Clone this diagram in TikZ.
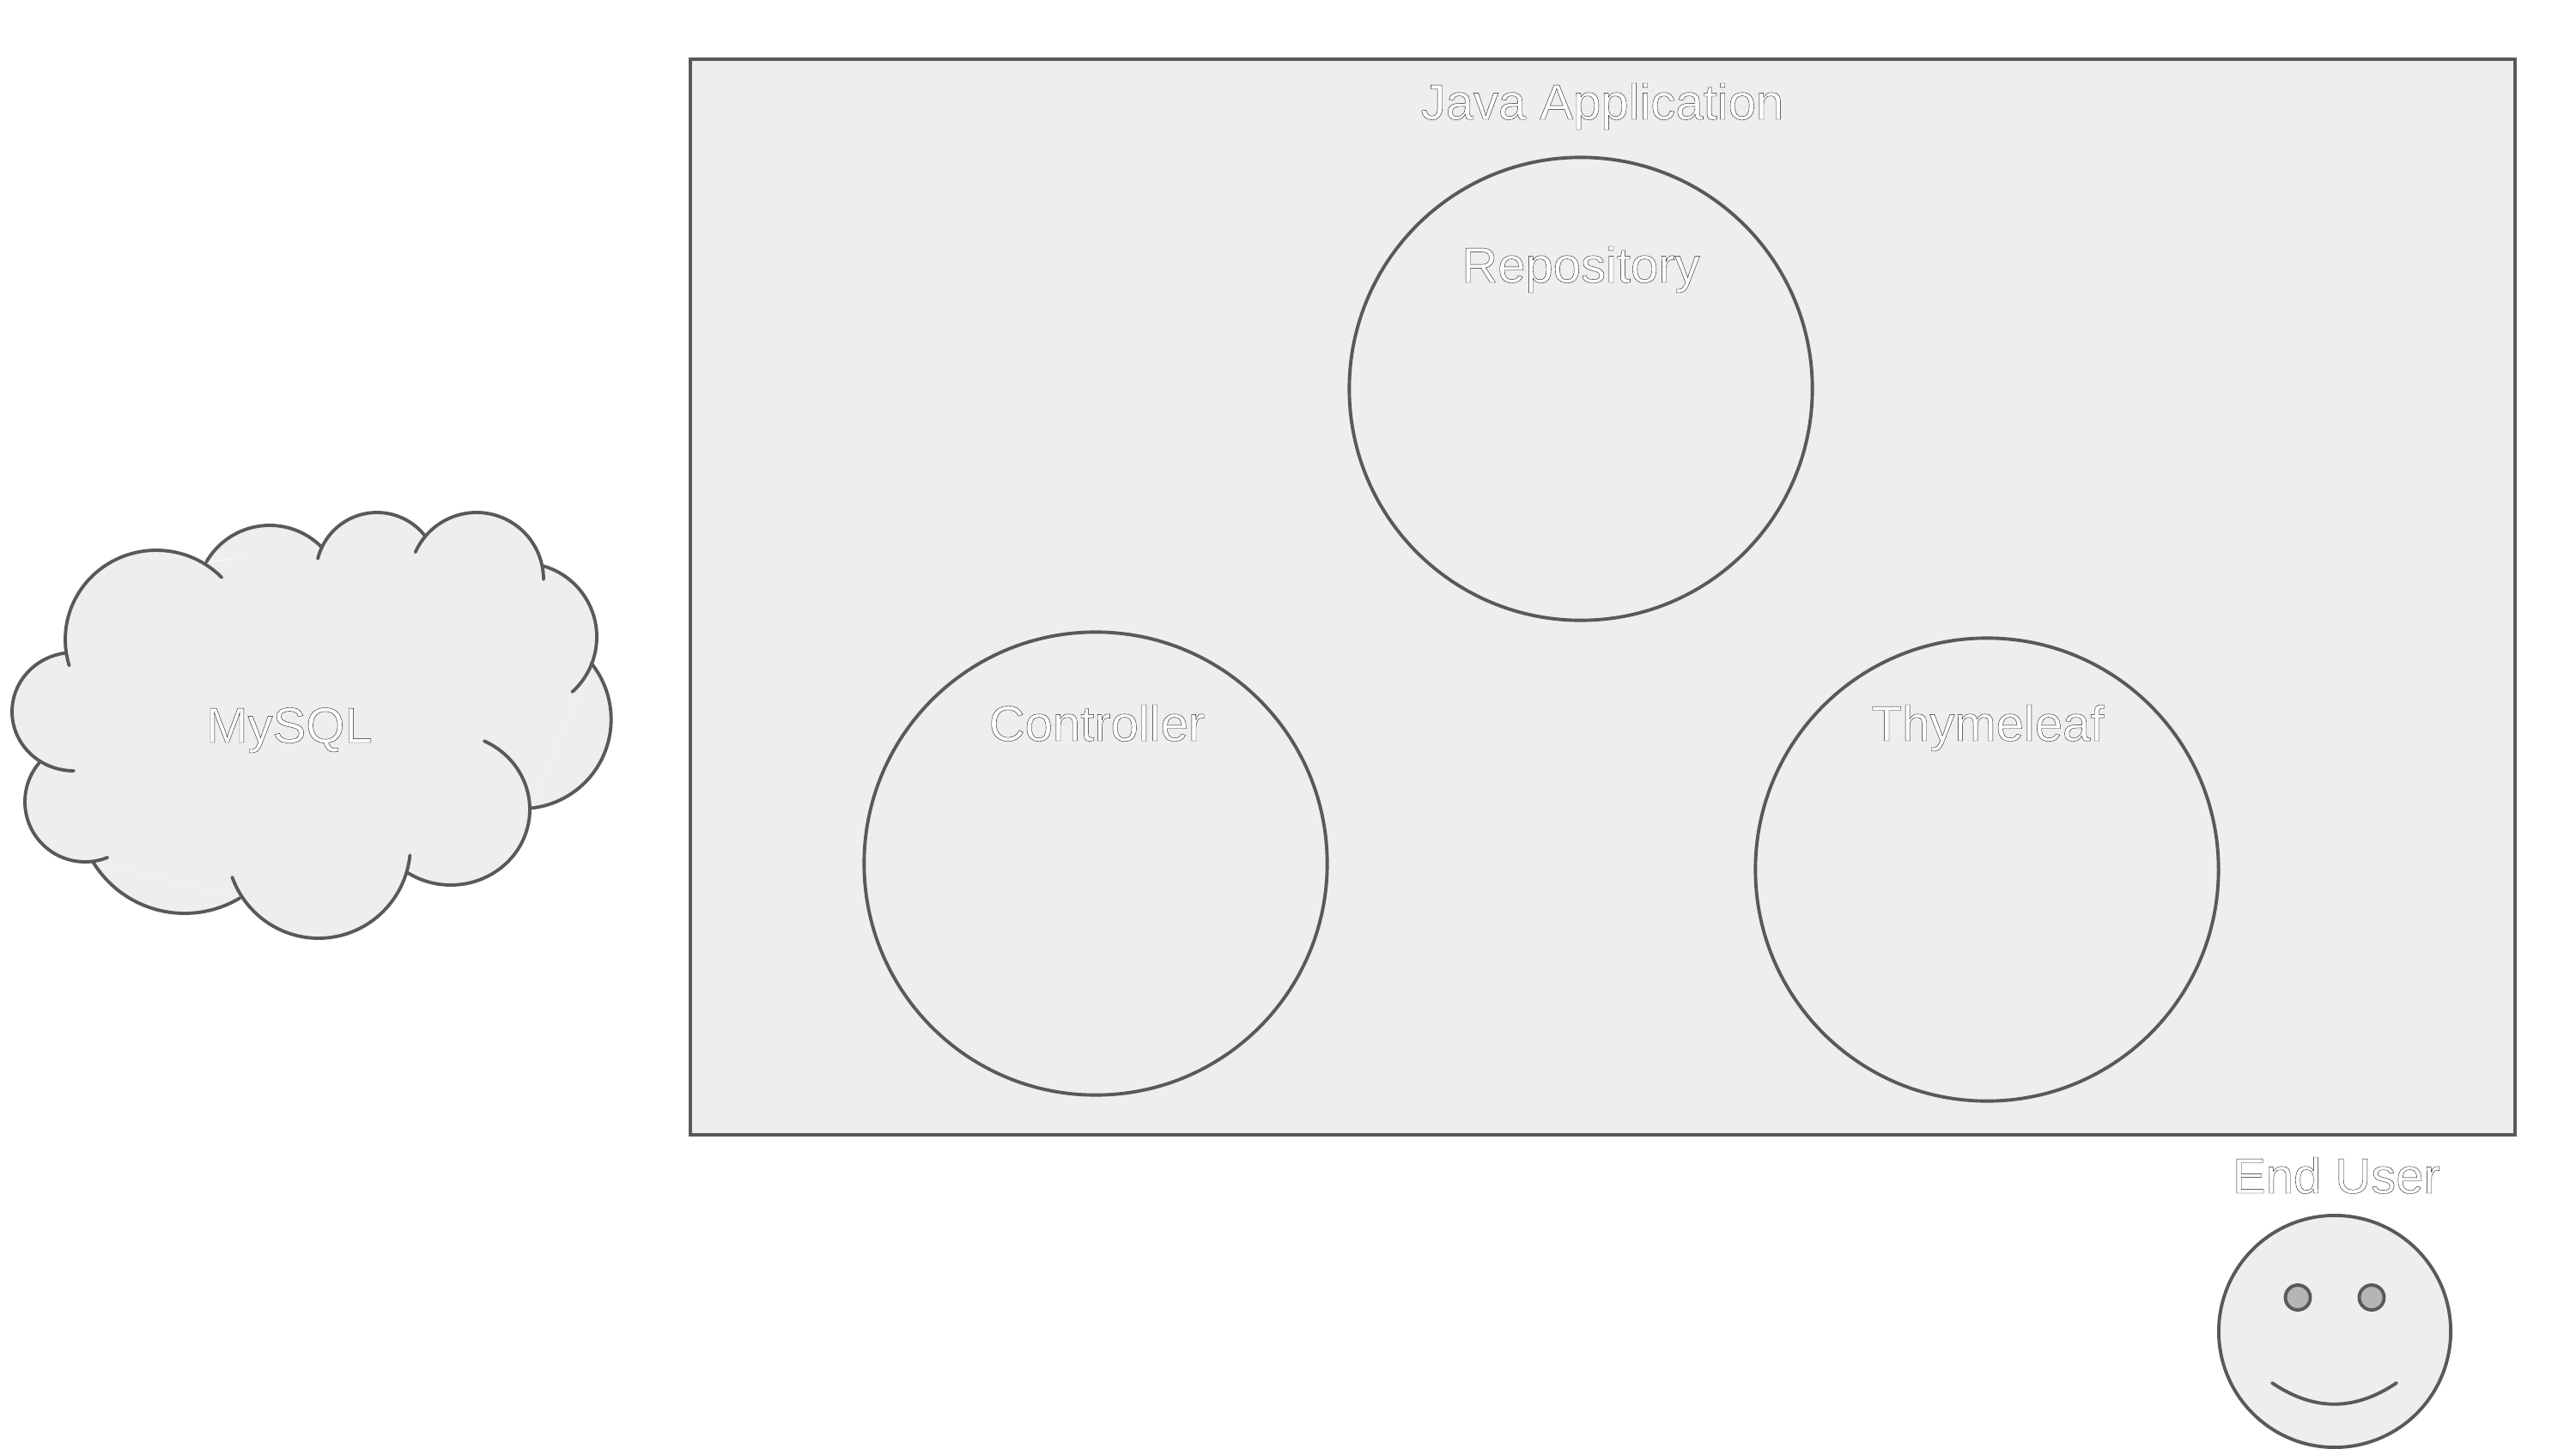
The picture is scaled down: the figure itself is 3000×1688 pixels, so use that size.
\documentclass[tikz,border=0pt]{standalone}
\usepackage{fontspec}
\setmainfont{Liberation Sans}
\definecolor{shapefill}{HTML}{EEEEEE}
\definecolor{shapeline}{HTML}{595959}
\definecolor{eyefill}{HTML}{B5B5B5}
\newcommand\hollowtext[1]{\color{white}\special{pdf:code 2 Tr 0.11 w 0.1 0.1 0.1 RG 1 1 1 rg}#1\special{pdf:code 0 Tr 0.5 w}}
\tikzset{
  x=0.01cm,y=-0.01cm,
  shapeline/.style={draw=shapeline,line width=1.1pt},
  component/.style={shapeline,fill=shapefill,circle,minimum size=5.39cm,inner sep=0pt,outer sep=0pt},
  eye/.style={shapeline,fill=eyefill,circle,minimum size=0.29cm,inner sep=0pt},
  hollow/.style={anchor=base,inner sep=0pt,font=\fontsize{16.5pt}{20pt}\selectfont},
  lobe/.style={shapeline,line cap=round},
}
\begin{document}
\begin{tikzpicture}
\useasboundingbox (0,0) rectangle (3000,1688);
\node[shapeline,fill=shapefill,rectangle,inner sep=0pt,outer sep=0pt,minimum width=21.23cm,minimum height=12.53cm] (app) at (1866.5,695.5) {};
\node[component] (repo) at (1841,453) {};
\node[component] (ctrl) at (1276,1006) {};
\node[component] (thyme) at (2314,1013) {};
\node[hollow] (appl) at (1866,139) {\hollowtext{Java Application}};
\node[hollow] (repol) at (1841,329) {\hollowtext{Repository}};
\node[hollow] (ctrll) at (1277.5,863) {\hollowtext{Controller}};
\node[hollow] (thymel) at (2315,863) {\hollowtext{Thymeleaf}};
% cloud: each lobe is an elliptical arc cx/cy/rx/ry/start/end
\fill[shapefill] (77,762)--(241,656)--(375,635)--(495,624)--(632,660)--(688,773)--(618,942)--(474,1018)--(279,1046)--(108,1003)--(47,890)--cycle;
\foreach \cx/\cy/\rx/\ry/\a/\b in {182/745/106/104/197/44, 314/697/85/85/150/44, 439/668/71/71/166/38, 555/675/78/78/156/0, 609/742/86/86/74/-48, 607.7/838/104/104/39/-84, 525/943/92/88/65/-123, 371/985/107/108/-6/-160, 215/939/125/125/-59/-149, 99/934/70/70/-68/-220, 86/829/72/69/270/97}{
  \fill[shapefill] plot[domain=\a:\b,samples=50,smooth] ({\cx+\rx*cos(\x)},{\cy-\ry*sin(\x)});
}
\foreach \cx/\cy/\rx/\ry/\a/\b in {182/745/106/104/197/44, 314/697/85/85/150/44, 439/668/71/71/166/38, 555/675/78/78/156/0, 609/742/86/86/74/-48, 607.7/838/104/104/39/-84, 525/943/92/88/65/-123, 371/985/107/108/-6/-160, 215/939/125/125/-59/-149, 99/934/70/70/-68/-220, 86/829/72/69/270/97}{
  \draw[lobe] plot[domain=\a:\b,samples=50,smooth] ({\cx+\rx*cos(\x)},{\cy-\ry*sin(\x)});
}
\node[hollow] (mysql) at (337,865) {\hollowtext{MySQL}};
% end user
\node[hollow] (userl) at (2721,1390) {\hollowtext{End User}};
\node[shapeline,fill=shapefill,circle,minimum size=2.70cm,inner sep=0pt,outer sep=0pt] (face) at (2719,1551) {};
\node[eye] (eyel) at (2676,1511.5) {};
\node[eye] (eyer) at (2762,1511.5) {};
\coordinate (mouthl) at (2646,1611);
\coordinate (mouthr) at (2791,1611);
\draw[lobe] (mouthl) .. controls (2695,1644) and (2742,1644) .. (mouthr);
\end{tikzpicture}
\end{document}
